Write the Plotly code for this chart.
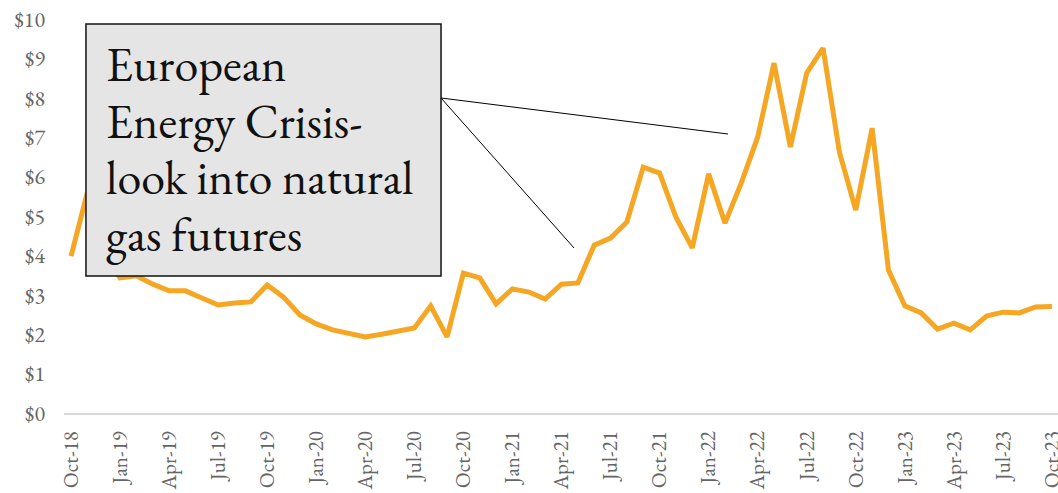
import plotly.graph_objects as go

# Monthly natural gas futures price, USD per MMBtu
months = [
    "Oct-18", "Nov-18", "Dec-18",
    "Jan-19", "Feb-19", "Mar-19", "Apr-19", "May-19", "Jun-19",
    "Jul-19", "Aug-19", "Sep-19", "Oct-19", "Nov-19", "Dec-19",
    "Jan-20", "Feb-20", "Mar-20", "Apr-20", "May-20", "Jun-20",
    "Jul-20", "Aug-20", "Sep-20", "Oct-20", "Nov-20", "Dec-20",
    "Jan-21", "Feb-21", "Mar-21", "Apr-21", "May-21", "Jun-21",
    "Jul-21", "Aug-21", "Sep-21", "Oct-21", "Nov-21", "Dec-21",
    "Jan-22", "Feb-22", "Mar-22", "Apr-22", "May-22", "Jun-22",
    "Jul-22", "Aug-22", "Sep-22", "Oct-22", "Nov-22", "Dec-22",
    "Jan-23", "Feb-23", "Mar-23", "Apr-23", "May-23", "Jun-23",
    "Jul-23", "Aug-23", "Sep-23", "Oct-23",
]
prices = [
    3.98, 5.60, 4.00,
    3.43, 3.48, 3.27, 3.10, 3.10, 2.92,
    2.74, 2.79, 2.82, 3.25, 2.94, 2.49,
    2.26, 2.11, 2.03, 1.93, 2.00, 2.08,
    2.16, 2.72, 1.93, 3.55, 3.43, 2.77,
    3.15, 3.07, 2.89, 3.27, 3.30, 4.26,
    4.44, 4.85, 6.24, 6.09, 4.97, 4.19,
    6.07, 4.82, 5.84, 7.00, 8.88, 6.75,
    8.63, 9.26, 6.62, 5.15, 7.23, 3.63,
    2.72, 2.54, 2.13, 2.28, 2.11, 2.46,
    2.56, 2.54, 2.69, 2.70,
]
tick_labels = months[::3]
y_ticks = list(range(0, 11))
y_tick_text = [f"${v}" for v in y_ticks]

callout_lines = ["European", "Energy Crisis-", "look into natural", "gas futures"]

SERIF = "EB Garamond, Garamond, Liberation Serif, serif"

fig = go.Figure()
fig.add_trace(go.Scatter(
    x=months, y=prices, mode="lines",
    line=dict(color="#F5A623", width=5),
    hoverinfo="skip", showlegend=False,
))

# Callout box with pointer lines
fig.add_shape(type="rect", xref="paper", yref="paper",
              x0=0.0221, x1=0.3793, y0=0.3477, y1=0.9873,
              fillcolor="#E5E5E5", line=dict(color="#111111", width=1.5),
              layer="above")
fig.add_shape(type="line", xref="paper", yref="paper",
              x0=0.3793, y0=0.7995, x1=0.668, y1=0.7081,
              line=dict(color="#000000", width=1))
fig.add_shape(type="line", xref="paper", yref="paper",
              x0=0.3793, y0=0.7995, x1=0.5131, y1=0.4188,
              line=dict(color="#000000", width=1))

centers_px = [64, 121, 177, 234]
for text, cy in zip(callout_lines, centers_px):
    fig.add_annotation(
        text=text, xref="paper", yref="paper",
        x=(104 - 64) / 994, y=(413 - cy) / 394,
        xanchor="left", yanchor="middle", showarrow=False,
        font=dict(family=SERIF, size=48, color="#111111"),
    )

fig.update_layout(
    width=1058, height=493,
    margin=dict(l=64, r=0, t=19, b=80),
    paper_bgcolor="white", plot_bgcolor="white",
    xaxis=dict(
        type="category", range=[-0.43, 60.37], automargin=False,
        tickmode="array", tickvals=tick_labels, ticktext=tick_labels,
        tickangle=-90, showgrid=False, zeroline=False,
        showline=True, linecolor="#D9D9D9", linewidth=1.5,
        ticks="", ticklen=0, ticklabelstandoff=8,
        tickfont=dict(family=SERIF, size=21, color="#666666"),
    ),
    yaxis=dict(
        range=[0, 10], tickmode="array", tickvals=y_ticks, ticktext=y_tick_text,
        automargin=False,
        showgrid=False, zeroline=False, showline=False, ticks="",
        ticklabelstandoff=18,
        tickfont=dict(family=SERIF, size=22, color="#666666"),
    ),
)

fig.write_html("out.html")
